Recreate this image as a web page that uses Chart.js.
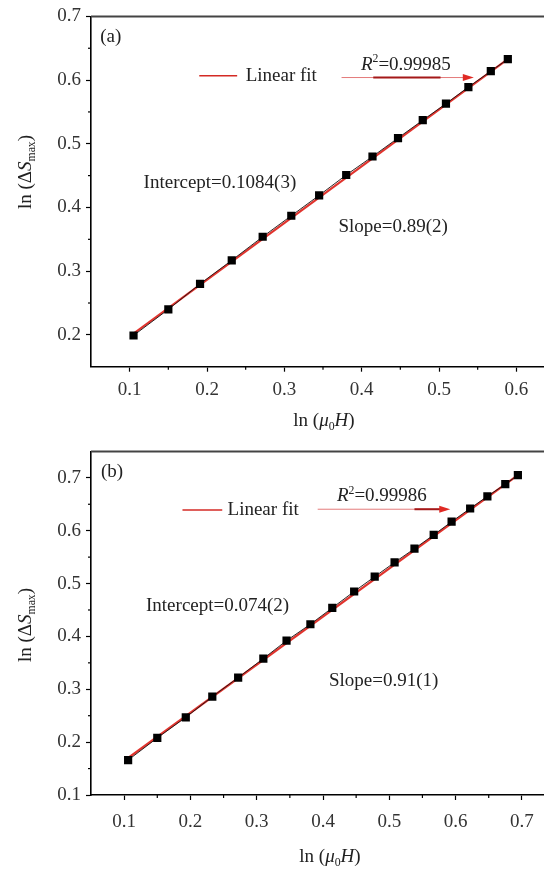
<!DOCTYPE html>
<html>
<head>
<meta charset="utf-8">
<script src="https://cdn.jsdelivr.net/npm/chart.js@4"></script>
<style>
  html, body { margin: 0; padding: 0; background: #fff; overflow: hidden; width: 544px; height: 869px; }
  canvas { position: absolute; left: 0; }
  #chartA { top: 0; }
  #chartB { top: 435px; }
</style>
</head>
<body>
<canvas id="chartA" width="600" height="435"></canvas>
<canvas id="chartB" width="600" height="434"></canvas>
<script>
// panel (a)
const lnHa = [0.105, 0.150, 0.191, 0.232, 0.272, 0.309, 0.345, 0.380, 0.414, 0.447, 0.479, 0.509, 0.538, 0.567, 0.589];
const lnSa = [0.199, 0.240, 0.280, 0.317, 0.354, 0.387, 0.419, 0.451, 0.480, 0.509, 0.537, 0.563, 0.589, 0.614, 0.633];
const fitXa = [0.105, 0.589];
const fitYa = [0.202, 0.633];
const xTicksA = [0.1, 0.2, 0.3, 0.4, 0.5, 0.6];
const yTicksA = [0.2, 0.3, 0.4, 0.5, 0.6, 0.7];

// panel (b)
const lnHb = [0.106, 0.150, 0.193, 0.233, 0.272, 0.310, 0.345, 0.381, 0.414, 0.447, 0.478, 0.508, 0.538, 0.567, 0.594, 0.622, 0.648, 0.675, 0.694];
const lnSb = [0.166, 0.208, 0.247, 0.286, 0.322, 0.358, 0.392, 0.423, 0.454, 0.485, 0.513, 0.540, 0.566, 0.592, 0.617, 0.642, 0.665, 0.688, 0.705];
const fitXb = [0.106, 0.694];
const fitYb = [0.170, 0.705];
const xTicksB = [0.1, 0.2, 0.3, 0.4, 0.5, 0.6, 0.7];
const yTicksB = [0.1, 0.2, 0.3, 0.4, 0.5, 0.6, 0.7];

const SERIF = "'Liberation Serif', 'Times New Roman', serif";

// draw text made of pieces (italic / sub / sup)
function richWidth(ctx, segs, size) {
  let w = 0;
  segs.forEach(s => {
    const fs = (s.sub || s.sup) ? size * 0.62 : size;
    ctx.font = (s.it ? 'italic ' : '') + fs + 'px ' + SERIF;
    w += ctx.measureText(s.t).width;
  });
  return w;
}
function drawRich(ctx, x, y, segs, size, align) {
  ctx.textBaseline = 'middle';
  ctx.textAlign = 'left';
  let cx = x;
  if (align === 'center') cx = x - richWidth(ctx, segs, size) / 2;
  segs.forEach(s => {
    const fs = (s.sub || s.sup) ? size * 0.62 : size;
    ctx.font = (s.it ? 'italic ' : '') + fs + 'px ' + SERIF;
    let dy = 0;
    if (s.sub) dy = size * 0.32;
    if (s.sup) dy = -size * 0.3;
    ctx.fillText(s.t, cx, y + dy);
    cx += ctx.measureText(s.t).width;
  });
}

const yTitle = [{t: 'ln (Δ'}, {t: 'S', it: true}, {t: 'max', sub: true}, {t: ')'}];
const xTitle = [{t: 'ln ('}, {t: 'μ', it: true}, {t: '0', sub: true}, {t: 'H', it: true}, {t: ')'}];

function makePanel(id, p) {
  const pts = p.x.map((v, i) => ({x: v, y: p.y[i]}));
  const fit = p.fitX.map((v, i) => ({x: v, y: p.fitY[i]}));
  const tickFont = {family: SERIF, size: 19};

  const decor = {
    id: 'decor',
    afterDraw(chart) {
      const ctx = chart.ctx;
      const a = chart.chartArea;
      const sx = chart.scales.x, sy = chart.scales.y;
      const X = v => sx.getPixelForValue(v), Y = v => sy.getPixelForValue(v);
      ctx.save();
      // top frame
      ctx.strokeStyle = '#444';
      ctx.lineWidth = 2;
      ctx.beginPath();
      ctx.moveTo(a.left, a.top);
      ctx.lineTo(a.right + 5, a.top);
      ctx.stroke();
      // minor ticks
      ctx.strokeStyle = '#000';
      ctx.lineWidth = 1.2;
      for (let i = 0; i < p.xTicks.length; i++) {
        const v = p.xTicks[i] + 0.05;
        if (v >= sx.max) continue;
        ctx.beginPath();
        ctx.moveTo(X(v), a.bottom);
        ctx.lineTo(X(v), a.bottom + 3);
        ctx.stroke();
      }
      for (let i = 0; i < p.yTicks.length; i++) {
        const v = p.yTicks[i] - 0.05;
        if (v <= sy.min + 0.001) continue;
        ctx.beginPath();
        ctx.moveTo(a.left, Y(v));
        ctx.lineTo(a.left - 3, Y(v));
        ctx.stroke();
      }
      const n = p.note;
      ctx.fillStyle = '#222';
      // panel tag
      drawRich(ctx, X(n.tag.x), Y(n.tag.y), [{t: n.tag.text}], 19, 'left');
      // legend sample
      ctx.strokeStyle = '#d42a24';
      ctx.lineWidth = 1.5;
      ctx.beginPath();
      ctx.moveTo(X(n.leg.x0), Y(n.leg.y));
      ctx.lineTo(X(n.leg.x1), Y(n.leg.y));
      ctx.stroke();
      drawRich(ctx, X(n.leg.tx), Y(n.leg.y), [{t: 'Linear fit'}], 19, 'left');
      // arrow
      const ay = Y(n.arr.y);
      ctx.strokeStyle = '#e47a7a';
      ctx.lineWidth = 1;
      ctx.beginPath();
      ctx.moveTo(X(n.arr.x0), ay);
      ctx.lineTo(X(n.arr.x1) - 6, ay);
      ctx.stroke();
      ctx.strokeStyle = '#a41818';
      ctx.lineWidth = 2;
      ctx.beginPath();
      ctx.moveTo(X(n.arr.d0), ay);
      ctx.lineTo(X(n.arr.d1), ay);
      ctx.stroke();
      ctx.fillStyle = '#e02a24';
      ctx.beginPath();
      ctx.moveTo(X(n.arr.x1), ay);
      ctx.lineTo(X(n.arr.x1) - 11, ay - 3.5);
      ctx.lineTo(X(n.arr.x1) - 11, ay + 3.5);
      ctx.closePath();
      ctx.fill();
      ctx.fillStyle = '#222';
      drawRich(ctx, X(n.r2.x), Y(n.r2.y), [{t: 'R', it: true}, {t: '2', sup: true}, {t: n.r2.text}], 19, 'left');
      drawRich(ctx, X(n.icp.x), Y(n.icp.y), [{t: n.icp.text}], 19, 'left');
      drawRich(ctx, X(n.slp.x), Y(n.slp.y), [{t: n.slp.text}], 19, 'left');
      // axis titles
      drawRich(ctx, p.xTitlePos[0], p.xTitlePos[1], xTitle, 19, 'center');
      ctx.translate(p.yTitlePos[0], p.yTitlePos[1]);
      ctx.rotate(-Math.PI / 2);
      drawRich(ctx, 0, 0, yTitle, 19, 'center');
      ctx.restore();
    }
  };

  new Chart(document.getElementById(id), {
    type: 'scatter',
    data: {
      datasets: [
        {
          data: pts, showLine: true, borderColor: '#1a1010', borderWidth: 0.9,
          pointStyle: 'rect', pointRadius: 5.8, pointBackgroundColor: '#000',
          pointBorderWidth: 0, order: 0
        },
        {
          data: fit, showLine: true, borderColor: '#e0342e', borderWidth: 2.2,
          pointRadius: 0, order: 1
        }
      ]
    },
    options: {
      responsive: false,
      animation: false,
      layout: { padding: { top: p.padTop, right: 45, left: 0, bottom: 0 } },
      plugins: { legend: { display: false }, tooltip: { enabled: false } },
      scales: {
        x: {
          type: 'linear', min: p.xMin, max: p.xMax,
          afterFit: s => { s.height = p.xAxisH; },
          afterBuildTicks: s => { s.ticks = p.xTicks.map(v => ({value: v})); },
          ticks: { font: tickFont, color: '#333', padding: p.xTickPad, maxRotation: 0, autoSkip: false,
                   callback: v => v.toFixed(1) },
          grid: { drawOnChartArea: false, tickLength: 5, color: '#000', tickWidth: 1.2 },
          border: { color: '#000', width: 1.6 }
        },
        y: {
          type: 'linear', min: p.yMin, max: p.yMax,
          afterFit: s => { s.width = 91; },
          afterBuildTicks: s => { s.ticks = p.yTicks.map(v => ({value: v})); },
          ticks: { font: tickFont, color: '#333', padding: 5, autoSkip: false,
                   callback: v => v.toFixed(1) },
          grid: { drawOnChartArea: false, tickLength: 5, color: '#000', tickWidth: 1.2 },
          border: { color: '#000', width: 1.6 }
        }
      }
    },
    plugins: [decor]
  });
}

makePanel('chartA', {
  x: lnHa, y: lnSa, fitX: fitXa, fitY: fitYa,
  xTicks: xTicksA, yTicks: yTicksA,
  xMin: 0.05, xMax: 0.65, yMin: 0.15, yMax: 0.7,
  padTop: 15.6, xAxisH: 68.3, xTickPad: 7,
  xTitlePos: [324, 421], yTitlePos: [26, 172],
  note: {
    tag: {x: 0.062, y: 0.668, text: '(a)'},
    leg: {x0: 0.190, x1: 0.239, tx: 0.250, y: 0.607},
    arr: {x0: 0.374, x1: 0.545, d0: 0.415, d1: 0.502, y: 0.604},
    r2: {x: 0.399, y: 0.624, text: '=0.99985'},
    icp: {x: 0.118, y: 0.439, text: 'Intercept=0.1084(3)'},
    slp: {x: 0.370, y: 0.370, text: 'Slope=0.89(2)'}
  }
});

makePanel('chartB', {
  x: lnHb, y: lnSb, fitX: fitXb, fitY: fitYb,
  xTicks: xTicksB, yTicks: yTicksB,
  xMin: 0.05, xMax: 0.75, yMin: 0.1, yMax: 0.75,
  padTop: 8.5, xAxisH: 74, xTickPad: 11,
  xTitlePos: [330, 422], yTitlePos: [26, 190],
  note: {
    tag: {x: 0.065, y: 0.711, text: '(b)'},
    leg: {x0: 0.188, x1: 0.248, tx: 0.256, y: 0.639},
    arr: {x0: 0.392, x1: 0.592, d0: 0.538, d1: 0.585, y: 0.6406},
    r2: {x: 0.421, y: 0.665, text: '=0.99986'},
    icp: {x: 0.133, y: 0.4575, text: 'Intercept=0.074(2)'},
    slp: {x: 0.409, y: 0.3155, text: 'Slope=0.91(1)'}
  }
});
</script>
</body>
</html>
